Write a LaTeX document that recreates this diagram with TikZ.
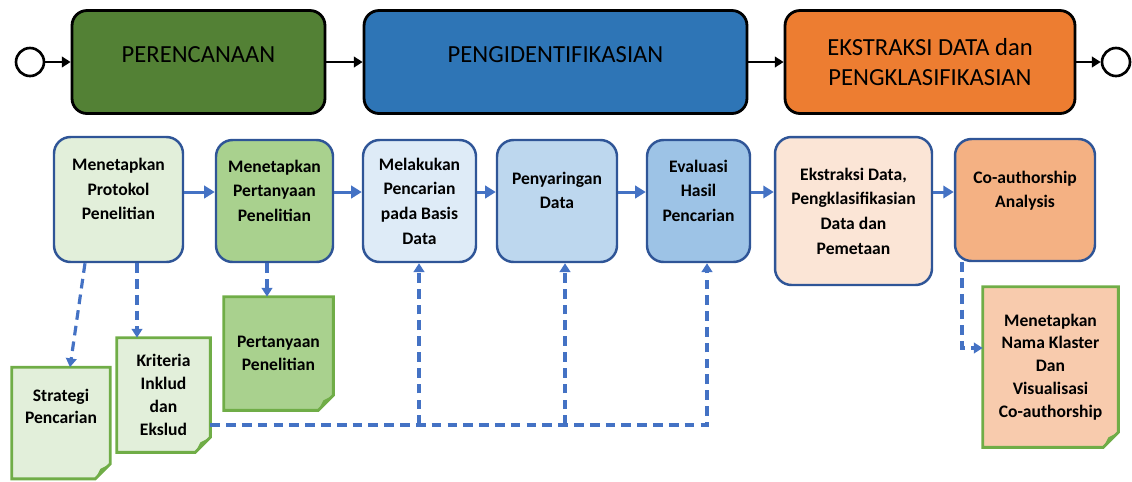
\documentclass[tikz,border=0pt]{standalone}
\usepackage{fontspec}
\setmainfont{Carlito}
\usetikzlibrary{arrows.meta}
\usetikzlibrary{backgrounds}
\definecolor{plangreen}{HTML}{538135}
\definecolor{identblue}{HTML}{2E75B6}
\definecolor{ekstorange}{HTML}{ED7D31}
\definecolor{boxblue}{HTML}{2F5597}
\definecolor{flowblue}{HTML}{4472C4}
\definecolor{lgreen}{HTML}{E2EFDA}
\definecolor{mgreen}{HTML}{A9D18E}
\definecolor{lblue}{HTML}{DEEBF7}
\definecolor{mblue}{HTML}{BDD7EE}
\definecolor{dblue}{HTML}{9DC3E6}
\definecolor{lorange}{HTML}{FBE5D6}
\definecolor{morange}{HTML}{F4B183}
\definecolor{docorange}{HTML}{F8CBAD}
\definecolor{docgreen}{HTML}{70AD47}
\tikzset{
  phase/.style={draw=black, line width=1.6pt, rounded corners=0.3cm, minimum height=2.06cm,
    align=center, font=\fontsize{14}{17}\selectfont},
  terminal/.style={circle, draw=black, line width=1.5pt, fill=white, minimum size=0.56cm, inner sep=0pt},
  stepbox/.style={draw=boxblue, line width=1.4pt, rounded corners=0.33cm, align=center,
    inner sep=1pt, font=\bfseries\fontsize{10}{14}\selectfont},
  lifted/.style={text depth=12pt},
  docbox/.style={align=center, inner sep=0pt, font=\bfseries\fontsize{10}{13}\selectfont},
  mainflow/.style={black, line width=1.4pt, -{Triangle[length=5pt,width=6pt]}},
  flow/.style={flowblue, line width=1.7pt, -{Triangle[length=6pt,width=7pt]}},
  dashflow/.style={flowblue, line width=1.8pt, dash pattern=on 5.5pt off 3.5pt, -{Triangle[length=5pt,width=6pt]}}
}

\begin{document}
\begin{tikzpicture}[x=0.02cm, y=-0.02cm]
\useasboundingbox (0,0) rectangle (1132,481);

% phases
\node[terminal] (start) at (30,62) {};
\node[phase, fill=plangreen, minimum width=5.06cm, text depth=8pt] (plan) at (198.5,62) {PERENCANAAN};
\node[phase, fill=identblue, minimum width=7.66cm, text depth=8pt] (ident) at (555.5,62) {PENGIDENTIFIKASIAN};
\node[phase, fill=ekstorange, minimum width=5.8cm] (ekstr) at (930,62) {EKSTRAKSI DATA dan\\PENGKLASIFIKASIAN};
\node[terminal] (finish) at (1116,62) {};
\draw[mainflow] (start) -- (plan);
\draw[mainflow] (plan) -- (ident);
\draw[mainflow] (ident) -- (ekstr);
\draw[mainflow] (ekstr) -- (finish);

% steps
\node[stepbox, lifted, fill=lgreen, minimum width=2.58cm, minimum height=2.5cm] (prot) at (118.5,199.5) {Menetapkan\\Protokol\\Penelitian};
\node[stepbox, lifted, fill=mgreen, minimum width=2.34cm, minimum height=2.44cm] (tanya) at (274.5,201) {Menetapkan\\Pertanyaan\\Penelitian};
\node[stepbox, fill=lblue, minimum width=2.26cm, minimum height=2.44cm] (cari) at (419.5,201) {Melakukan\\Pencarian\\pada Basis\\Data};
\node[stepbox, lifted, fill=mblue, minimum width=2.4cm, minimum height=2.44cm] (saring) at (557,201) {Penyaringan\\Data};
\node[stepbox, lifted, fill=dblue, minimum width=2.06cm, minimum height=2.44cm] (eval) at (698.5,201) {Evaluasi\\Hasil\\Pencarian};
\node[stepbox, fill=lorange, minimum width=3.14cm, minimum height=2.96cm] (ekst) at (853.5,211) {Ekstraksi Data,\\Pengklasifikasian\\Data dan\\Pemetaan};
\node[stepbox, lifted, fill=morange, minimum width=2.8cm, minimum height=2.44cm] (coauth) at (1025,200) {Co-authorship\\Analysis};
\coordinate (row) at (0,192);
\foreach \a/\b in {prot/tanya, tanya/cari, cari/saring, saring/eval, eval/ekst, ekst/coauth}
  \draw[flow] (\a.east |- row) -- (\b.west |- row);

% documents
\node[docbox, minimum width=1.96cm, minimum height=2.22cm] (strat) at (61,423) {Strategi\\Pencarian\\[6pt]};
\node[docbox, minimum width=1.86cm, minimum height=2.28cm] (krit) at (163.5,395) {Kriteria\\Inklud\\dan\\Ekslud};
\node[docbox, minimum width=2.18cm, minimum height=2.26cm] (tanyadoc) at (278.5,353.5) {Pertanyaan\\Penelitian};
\node[docbox, minimum width=2.7cm, minimum height=3.2cm] (klaster) at (1050.5,367) {Menetapkan\\Nama Klaster\\Dan\\Visualisasi\\Co-authorship};
\begin{scope}[on background layer]
\foreach \n/\c in {strat/lgreen, krit/lgreen, tanyadoc/mgreen, klaster/docorange} {
  \filldraw[fill=\c, draw=docgreen, line width=1.6pt]
    (\n.north west) -- (\n.north east) -- ([yshift=0.3cm]\n.south east)
    -- ([xshift=-0.3cm]\n.south east) -- (\n.south west) -- cycle;
  \fill[docgreen] ([yshift=0.3cm]\n.south east) -- ([xshift=-0.3cm]\n.south east)
    -- ([xshift=-0.2cm,yshift=0.2cm]\n.south east) -- cycle;
}
\end{scope}

% dashed links
\draw[dashflow] (prot.south -| 85,0) -- (strat.north -| 70,0);
\draw[dashflow] (prot.south -| 137,0) -- (krit.north -| 137,0);
\draw[dashflow] (tanya.south -| 267,0) -- (tanyadoc.north -| 267,0);
\coordinate (bus) at (0,425);
\draw[dashflow] (krit.east |- bus) -| (eval.south -| 707,0);
\draw[dashflow] (bus -| 419,0) -- (cari.south -| 419,0);
\draw[dashflow] (bus -| 565,0) -- (saring.south -| 565,0);
\draw[dashflow] (coauth.south -| 962,0) |- (klaster.west |- 0,348);
\end{tikzpicture}
\end{document}
